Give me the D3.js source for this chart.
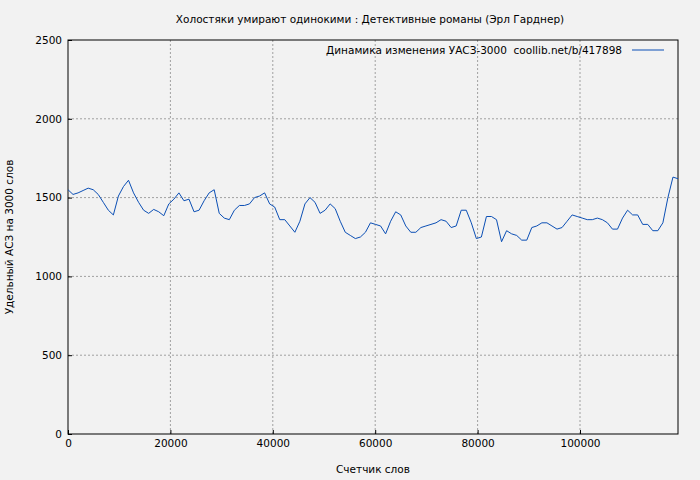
<!DOCTYPE html><html><head><meta charset="utf-8"><script src="https://cdn.jsdelivr.net/npm/d3@7"></script>
<style>body{margin:0;background:#f2f2f2}text{font-family:"DejaVu Sans",sans-serif;font-size:11px;fill:#000}</style></head><body>
<svg id="c" width="700" height="480"></svg>
<script>
const title="Холостяки умирают одинокими : Детективные романы (Эрл Гарднер)";
const legendLabel="Динамика изменения УАСЗ-3000\u00a0\u00a0coollib.net/b/417898";
const xLabel="Счетчик слов", yLabel="Удельный АСЗ на 3000 слов";
const xTicks=[0,20000,40000,60000,80000,100000];
const yTicks=[0,500,1000,1500,2000,2500];
const xMax=119140;
const values=[1550,1520,1530,1545,1560,1550,1520,1470,1420,1390,1510,1570,1610,1530,1470,1420,1400,1425,1410,1385,1460,1490,1530,1480,1490,1410,1420,1480,1530,1550,1400,1370,1360,1420,1450,1450,1460,1500,1510,1530,1460,1440,1360,1360,1320,1280,1350,1460,1500,1470,1400,1420,1460,1430,1350,1280,1260,1240,1250,1280,1340,1330,1320,1270,1350,1410,1390,1320,1280,1280,1310,1320,1330,1340,1360,1350,1310,1320,1420,1420,1340,1240,1250,1380,1380,1360,1220,1290,1270,1260,1230,1230,1310,1320,1340,1340,1320,1300,1310,1350,1390,1380,1370,1360,1360,1370,1360,1340,1300,1300,1370,1420,1390,1390,1330,1330,1290,1290,1340,1500,1630,1620];
const svg=d3.select("#c");
const L=68,R=678,T=40,B=434;
const x=d3.scaleLinear().domain([0,xMax]).range([L,R]);
const y=d3.scaleLinear().domain([0,2500]).range([B,T]);
svg.append("rect").attr("x",0).attr("y",0).attr("width",700).attr("height",480).attr("fill","#f2f2f2");
const g=svg.append("g");
xTicks.slice(1).forEach(t=>g.append("line").attr("x1",x(t)).attr("x2",x(t)).attr("y1",T).attr("y2",B).attr("stroke","#a0a0a0").attr("stroke-dasharray","2,2"));
yTicks.slice(1,-1).forEach(t=>g.append("line").attr("x1",L).attr("x2",R).attr("y1",y(t)).attr("y2",y(t)).attr("stroke","#a0a0a0").attr("stroke-dasharray","2,2"));
svg.append("g").attr("transform",`translate(0,${B})`).call(d3.axisBottom(x).tickValues(xTicks).tickFormat(d3.format("d")).tickSize(-4).tickPadding(6)).call(a=>a.select(".domain").remove()).selectAll("text").style("font-size","10.5px");
svg.append("g").attr("transform",`translate(${L},0)`).call(d3.axisLeft(y).tickValues(yTicks).tickFormat(d3.format("d")).tickSize(-4).tickPadding(6)).call(a=>a.select(".domain").remove()).selectAll("text").style("font-size","10.5px");
svg.append("rect").attr("x",L).attr("y",T).attr("width",R-L).attr("height",B-T).attr("fill","none").attr("stroke","#000");
const step=xMax/(values.length-1);
svg.append("path").datum(values).attr("fill","none").attr("stroke","#0b4fb5").attr("stroke-width",1)
 .attr("d",d3.line().x((d,i)=>x(i*step)).y(d=>y(d)));
svg.append("text").attr("x",370).attr("y",23).attr("text-anchor","middle").style("font-size","10.5px").text(title);
svg.append("text").attr("x",622).attr("y",54).attr("text-anchor","end").style("font-size","10.5px").text(legendLabel);
svg.append("line").attr("x1",632).attr("x2",664).attr("y1",50).attr("y2",50).attr("stroke","#0b4fb5");
svg.append("text").attr("x",373).attr("y",473).attr("text-anchor","middle").style("font-size","10.5px").text(xLabel);
svg.append("text").attr("transform","translate(13,237) rotate(-90)").attr("text-anchor","middle").style("font-size","10.5px").text(yLabel);
</script></body></html>
